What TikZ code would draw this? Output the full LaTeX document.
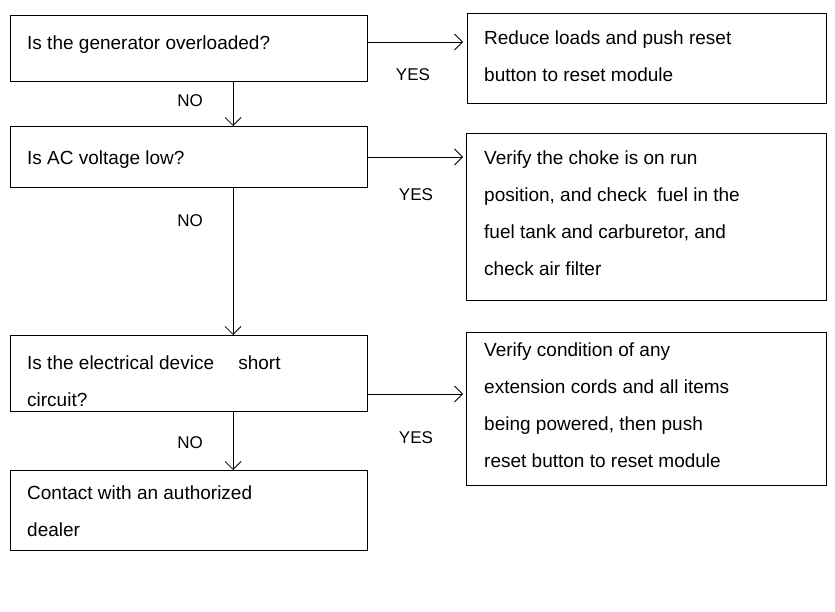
\documentclass[tikz,border=0pt]{standalone}
\usepackage{fontspec}
\usetikzlibrary{arrows.meta}
\setmainfont{Liberation Sans}
\begin{document}
\begin{tikzpicture}[x=1pt,y=-1pt,
 box/.style={draw,line width=0.8pt},
 txt/.style={anchor=north west,align=left,font=\fontsize{19}{37}\selectfont,inner sep=0pt,yshift=0pt},
 lbl/.style={font=\fontsize{17}{18}\selectfont},
 arr/.style={-{Straight Barb[length=8pt,width=16pt,line width=0.8pt]},line width=0.8pt}]
\useasboundingbox (0,0) rectangle (835,612);
\draw[box] (10,15) rectangle (367,81);
\draw[box] (467,13) rectangle (826,103);
\draw[box] (10,126) rectangle (367,187);
\draw[box] (466,133) rectangle (826,300);
\draw[box] (10,335) rectangle (367,411);
\draw[box] (466,332) rectangle (826,485);
\draw[box] (10,470) rectangle (367,550);
\node[txt] (t1) at (27,23.1) {\strut Is the generator overloaded?};
\node[txt] (t2) at (27,138.1) {\strut Is AC voltage low?};
\node[txt] (t3) at (27,343.1) {\strut Is the electrical device\hspace{1em} short\\circuit?};
\node[txt] (t4) at (27,473.1) {\strut Contact with an authorized\\dealer};
\node[txt] (r1) at (484,18.1) {\strut Reduce loads and push reset\\button to reset module};
\node[txt] (r2) at (484,138.1) {\strut Verify the choke is on run\\position, and check\ \ fuel in the\\fuel tank and carburetor, and\\check air filter};
\node[txt] (r3) at (484,330.1) {\strut Verify condition of any\\extension cords and all items\\being powered, then push\\reset button to reset module};
\coordinate (a1s) at (367,42); \coordinate (a1e) at (463,42);
\coordinate (a2s) at (367,157); \coordinate (a2e) at (463,157);
\coordinate (a3s) at (367,394); \coordinate (a3e) at (463,394);
\coordinate (v1s) at (233,81); \coordinate (v1e) at (233,126);
\coordinate (v2s) at (233,187); \coordinate (v2e) at (233,335);
\coordinate (v3s) at (233,411); \coordinate (v3e) at (233,470);
\draw[arr] (a1s)--(a1e); \draw[arr] (a2s)--(a2e); \draw[arr] (a3s)--(a3e);
\draw[arr] (v1s)--(v1e); \draw[arr] (v2s)--(v2e); \draw[arr] (v3s)--(v3e);
\node[lbl] (y1) at (413,75) {YES};
\node[lbl] (y2) at (416,195) {YES};
\node[lbl] (y3) at (416,438) {YES};
\node[lbl] (n1) at (190,101) {NO};
\node[lbl] (n2) at (190,221) {NO};
\node[lbl] (n3) at (190,443) {NO};
\end{tikzpicture}
\end{document}
